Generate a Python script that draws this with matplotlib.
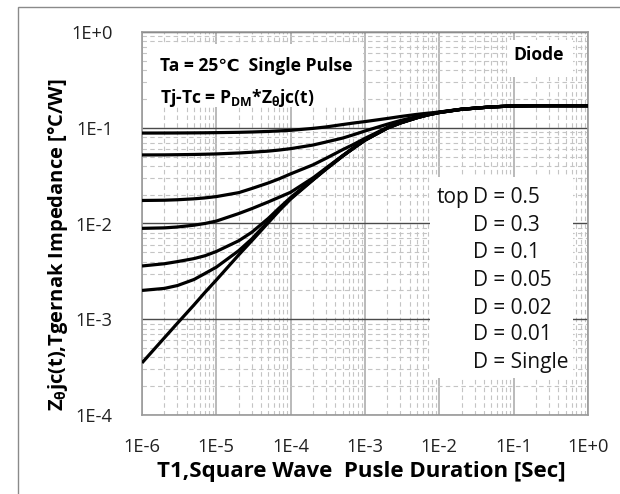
import matplotlib
matplotlib.use("Agg")
import matplotlib.pyplot as plt
from matplotlib.patches import Rectangle
from matplotlib.ticker import FixedLocator, NullFormatter, LogLocator

plt.rcParams['font.family'] = ['Open Sans', 'DejaVu Sans']
plt.rcParams['mathtext.fontset'] = 'custom'
plt.rcParams['mathtext.rm'] = 'Open Sans:bold'
plt.rcParams['mathtext.it'] = 'Open Sans:bold'
plt.rcParams['mathtext.bf'] = 'Open Sans:bold'

# ---- data ----
t = [1e-6, 2e-6, 3e-6, 5e-6, 7e-6,
     1e-5, 2e-5, 3e-5, 5e-5, 7e-5,
     1e-4, 2e-4, 3e-4, 5e-4, 7e-4,
     1e-3, 2e-3, 3e-3, 5e-3, 7e-3,
     1e-2, 2e-2, 5e-2, 1e-1, 2e-1, 5e-1, 1.0]
z_d05 = [0.0880, 0.0881, 0.0882, 0.0884, 0.0886,
         0.0889, 0.0896, 0.0903, 0.0915, 0.0927,
         0.0940, 0.0985, 0.1020, 0.1080, 0.1120,
         0.1160, 0.1250, 0.1310, 0.1380, 0.1420,
         0.1460, 0.1565, 0.1652, 0.1690, 0.1700, 0.1700, 0.1700]
z_d03 = [0.0520, 0.0521, 0.0523, 0.0526, 0.0529,
         0.0533, 0.0545, 0.0555, 0.0570, 0.0585,
         0.0605, 0.0660, 0.0710, 0.0780, 0.0845,
         0.0925, 0.1090, 0.1190, 0.1310, 0.1380,
         0.1455, 0.1562, 0.1651, 0.1690, 0.1700, 0.1700, 0.1700]
z_d01 = [0.0174, 0.0175, 0.0177, 0.0181, 0.0185,
         0.0191, 0.0210, 0.0232, 0.0265, 0.0293,
         0.0330, 0.0410, 0.0480, 0.0590, 0.0670,
         0.0775, 0.1010, 0.1140, 0.1288, 0.1374,
         0.1452, 0.1560, 0.1650, 0.1690, 0.1700, 0.1700, 0.1700]
z_d005 = [0.0089, 0.0090, 0.0092, 0.0096, 0.0100,
          0.0106, 0.0127, 0.0143, 0.0168, 0.0188,
          0.0212, 0.0300, 0.0380, 0.0512, 0.0618,
          0.0750, 0.0998, 0.1128, 0.1276, 0.1366,
          0.1445, 0.1560, 0.1650, 0.1690, 0.1700, 0.1700, 0.1700]
z_d002 = [0.0036, 0.0038, 0.0040, 0.0043, 0.0046,
          0.0051, 0.0066, 0.0081, 0.0113, 0.0145,
          0.0187, 0.0289, 0.0373, 0.0508, 0.0614,
          0.0745, 0.0994, 0.1124, 0.1273, 0.1363,
          0.1443, 0.1560, 0.1650, 0.1690, 0.1700, 0.1700, 0.1700]
z_d001 = [0.0020, 0.0021, 0.00225, 0.0026, 0.0030,
          0.0035, 0.0052, 0.0069, 0.0105, 0.0139,
          0.0183, 0.0287, 0.0371, 0.0506, 0.0612,
          0.0742, 0.0992, 0.1122, 0.1271, 0.1361,
          0.1441, 0.1560, 0.1650, 0.1690, 0.1700, 0.1700, 0.1700]
z_single = [0.00035, 0.00064, 0.00091, 0.00141, 0.0019,
            0.00257, 0.0047, 0.0066, 0.0102, 0.0136,
            0.0180, 0.0285, 0.0370, 0.0505, 0.0610,
            0.0740, 0.0990, 0.1120, 0.1270, 0.1360,
            0.1440, 0.1560, 0.1650, 0.1690, 0.1700, 0.1700, 0.1700]
series = [z_d05, z_d03, z_d01, z_d005, z_d002, z_d001, z_single]
legend_labels = ["D = 0.5", "D = 0.3", "D = 0.1", "D = 0.05", "D = 0.02", "D = 0.01", "D = Single"]

x_ticks = [1e-6, 1e-5, 1e-4, 1e-3, 1e-2, 1e-1, 1e0]
x_tick_labels = ["1E-6", "1E-5", "1E-4", "1E-3", "1E-2", "1E-1", "1E+0"]
y_ticks = [1e-4, 1e-3, 1e-2, 1e-1, 1e0]
y_tick_labels = ["1E-4", "1E-3", "1E-2", "1E-1", "1E+0"]

fig = plt.figure(figsize=(6.2, 4.94), dpi=100)
fig.patch.set_facecolor('white')
# outer frame
fig.add_artist(Rectangle((18/620, -0.1), 1.2, 1 - 7/494 + 0.1, transform=fig.transFigure,
                         fill=False, edgecolor='#8a8a8a', linewidth=1.0, clip_on=False))

ax = fig.add_axes([142/620, 1 - 415/494, 446/620, 383/494])
ax.set_xscale('log')
ax.set_yscale('log')
ax.set_xlim(1e-6, 1)
ax.set_ylim(1e-4, 1)

for z in series:
    ax.plot(t, z, color='black', lw=2.3, solid_joinstyle='round', solid_capstyle='butt', zorder=3)

ax.xaxis.set_major_locator(FixedLocator(x_ticks))
ax.set_xticklabels(x_tick_labels)
ax.yaxis.set_major_locator(FixedLocator(y_ticks))
ax.set_yticklabels(y_tick_labels)
ax.xaxis.set_minor_locator(LogLocator(base=10, subs=range(2, 10), numticks=20))
ax.yaxis.set_minor_locator(LogLocator(base=10, subs=range(2, 10), numticks=20))
ax.xaxis.set_minor_formatter(NullFormatter())
ax.yaxis.set_minor_formatter(NullFormatter())
ax.tick_params(which='both', length=0)
ax.tick_params(axis='x', pad=16.5, labelsize=13.2, colors='#222222')
ax.tick_params(axis='y', pad=21, labelsize=13.2, colors='#222222')

ax.set_axisbelow(True)
ax.grid(which='minor', axis='both', color='#c4c4c4', lw=0.8, linestyle=(0, (4, 3)))
ax.grid(which='major', axis='x', color='#b4b4b4', lw=1.3, linestyle='-')
ax.grid(which='major', axis='y', color='#4a4a4a', lw=1.0, linestyle='-')
for s in ax.spines.values():
    s.set_color('#9a9a9a')
    s.set_linewidth(1.2)

# white annotation backgrounds
for (x0, y0, x1, y1) in [(0.013, 0.804, 0.496, 0.969), (0.821, 0.883, 0.966, 0.979),
                         (0.646, 0.097, 0.966, 0.621)]:
    ax.add_patch(Rectangle((x0, y0), x1 - x0, y1 - y0, transform=ax.transAxes,
                           facecolor='white', edgecolor='none', zorder=1.5))

ax.text(0.040, 0.911, "Ta = 25℃  Single Pulse", transform=ax.transAxes,
        fontsize=12.6, fontweight='bold', va='center', ha='left', zorder=4)
ax.text(0.040, 0.828, r"Tj-Tc = P$_{\mathrm{DM}}$*Z$_{\theta}$jc(t)", transform=ax.transAxes,
        fontsize=12.6, fontweight='bold', va='center', ha='left', zorder=4)
ax.text(0.890, 0.940, "Diode", transform=ax.transAxes,
        fontsize=12.6, fontweight='bold', va='center', ha='center', zorder=4)

leg_y = [0.567, 0.496, 0.423, 0.352, 0.279, 0.209, 0.136]
for lab, yy in zip(legend_labels, leg_y):
    ax.text(0.742, yy, lab, transform=ax.transAxes, fontsize=15, va='center', ha='left',
            color='#111111', zorder=4)
ax.text(0.735, leg_y[0], "top", transform=ax.transAxes, fontsize=15, va='center', ha='right',
        color='#111111', zorder=4)

fig.text(361/620, 1 - 471/494, "T1,Square Wave  Pusle Duration [Sec]", fontsize=16,
         fontweight='bold', ha='center', va='center')
fig.text(58/620, 1 - 245/494, r"Z$_{\theta}$jc(t),Tgernak Impedance [°C/W]", fontsize=14.5,
         fontweight='bold', ha='center', va='center', rotation=90)

fig.savefig("out.png", dpi=100)
